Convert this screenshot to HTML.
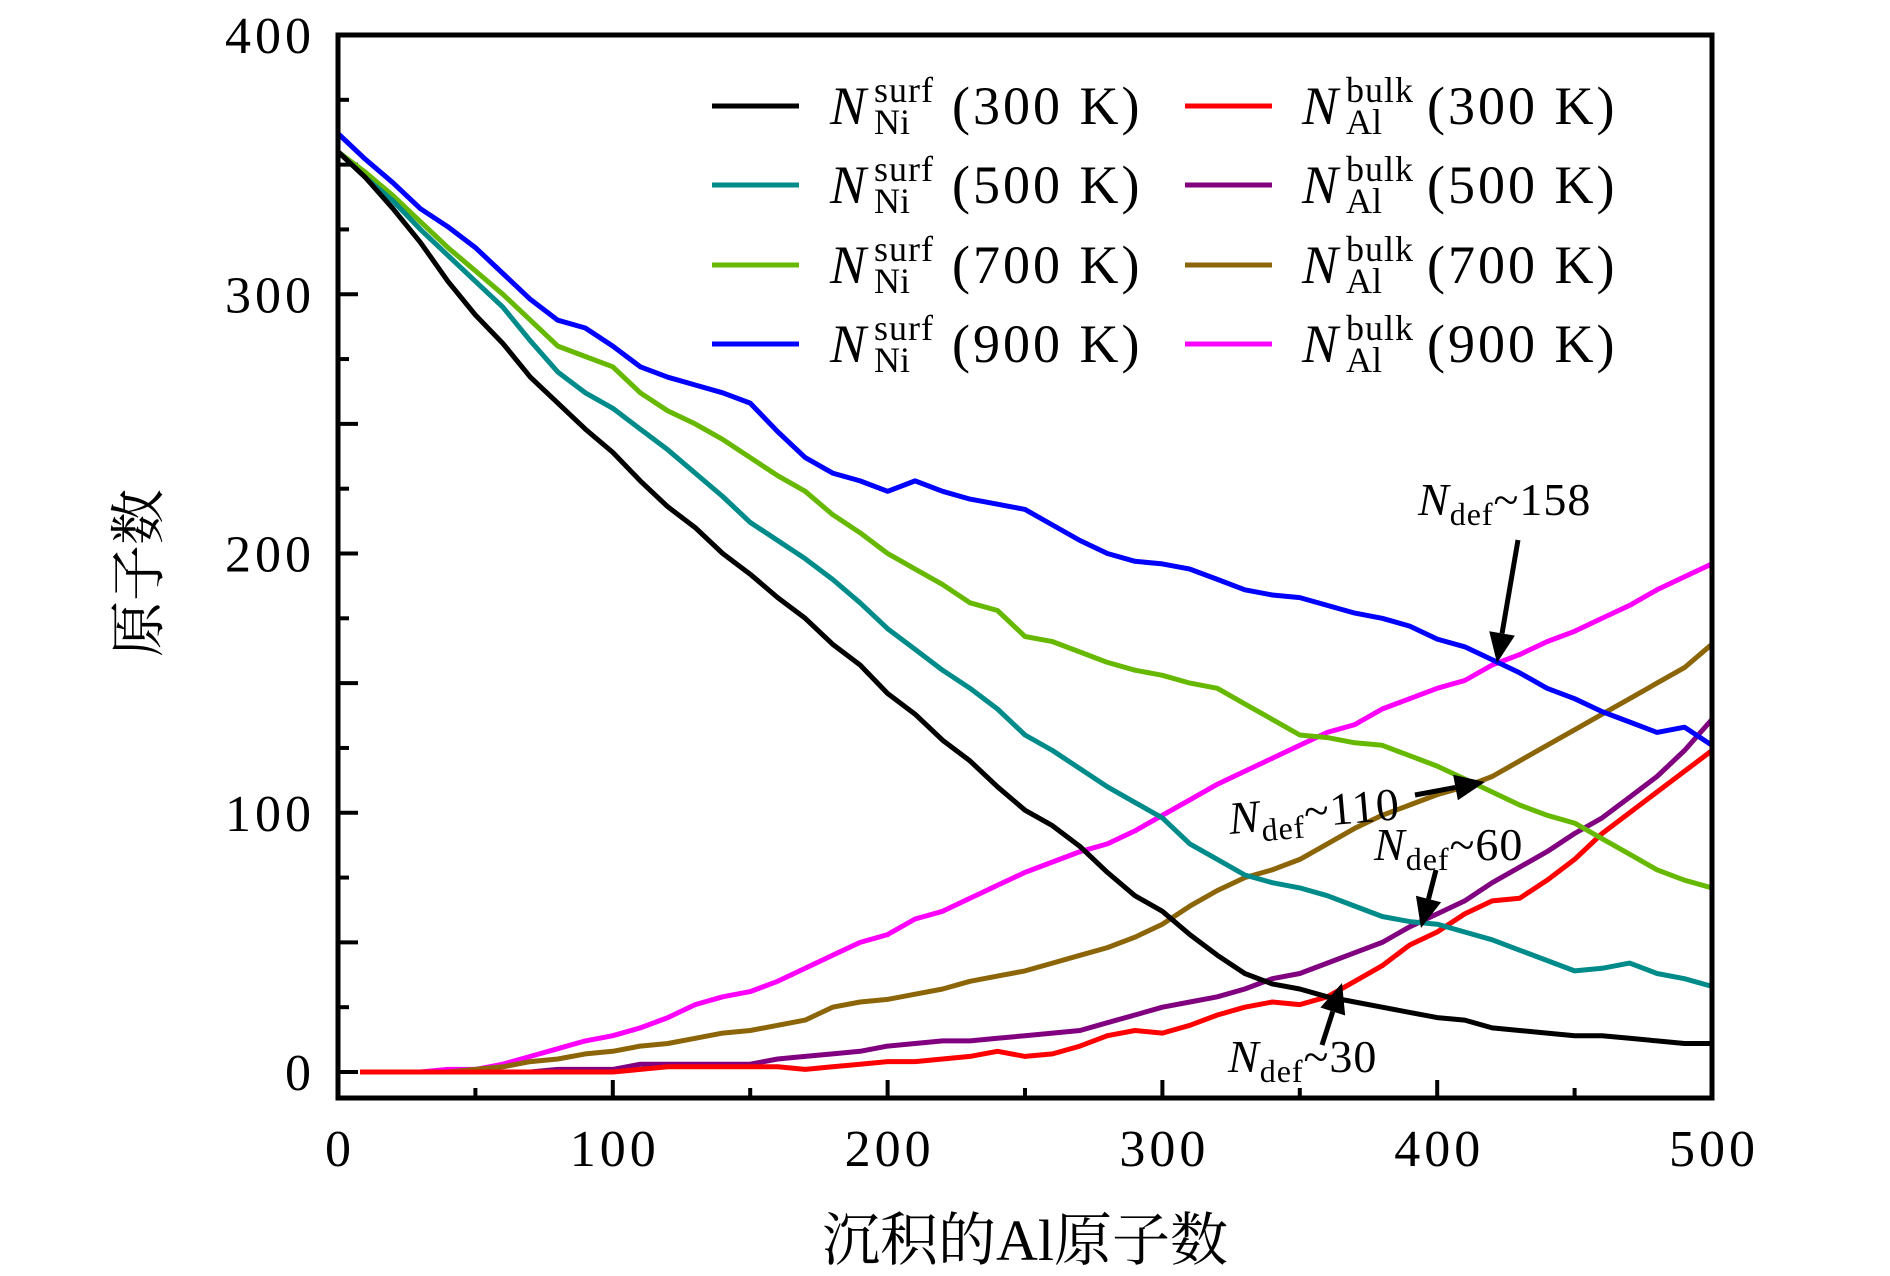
<!DOCTYPE html>
<html><head><meta charset="utf-8"><style>
html,body{margin:0;padding:0;background:#fff;}
svg{display:block;font-family:"Liberation Serif","Noto Serif CJK SC",serif;}
</style></head><body>
<svg id="chart" width="1890" height="1276" viewBox="0 0 1890 1276" xmlns="http://www.w3.org/2000/svg">
<g id="ticks"></g>
<g id="series"></g>
<rect x="338" y="35" width="1374" height="1063" fill="none" stroke="#000" stroke-width="5"/>
<g id="ticklabels" font-size="52" letter-spacing="4"></g>
<text transform="translate(158,573) rotate(-90)" text-anchor="middle" font-size="56" font-family="'Noto Serif CJK SC','Liberation Serif',serif">原子数</text>
<text x="1025" y="1260" text-anchor="middle" font-size="58" font-family="'Liberation Serif','Noto Serif CJK SC',serif">沉积的Al原子数</text>
<g id="legend"></g>
<g id="annot"></g>
</svg>
<script>
const xs = [0,10,20,30,40,50,60,70,80,90,100,110,120,130,140,150,160,170,180,190,200,210,220,230,240,250,260,270,280,290,300,310,320,330,340,350,360,370,380,390,400,410,420,430,440,450,460,470,480,490,500];
const surf300 = [355,345,333,320,305,292,281,268,258,248,239,228,218,210,200,192,183,175,165,157,146,138,128,120,110,101,95,87,77,68,62,53,45,38,34,32,29,27,25,23,21,20,17,16,15,14,14,13,12,11,11];
const surf500 = [355,345,336,325,315,305,295,282,270,262,256,248,240,231,222,212,205,198,190,181,171,163,155,148,140,130,124,117,110,104,98,88,82,76,73,71,68,64,60,58,57,54,51,47,43,39,40,42,38,36,33];
const surf700 = [355,347,338,328,318,309,300,290,280,276,272,262,255,250,244,237,230,224,215,208,200,194,188,181,178,168,166,162,158,155,153,150,148,142,136,130,129,127,126,122,118,113,108,103,99,96,90,84,78,74,71];
const surf900 = [362,352,343,333,326,318,308,298,290,287,280,272,268,265,262,258,247,237,231,228,224,228,224,221,219,217,211,205,200,197,196,194,190,186,184,183,180,177,175,172,167,164,159,154,148,144,139,135,131,133,126];
const bulk300 = [0,0,0,0,0,0,0,0,0,0,0,1,2,2,2,2,2,1,2,3,4,4,5,6,8,6,7,10,14,16,15,18,22,25,27,26,29,35,41,49,54,61,66,67,74,82,92,100,108,116,124];
const bulk500 = [0,0,0,0,0,0,0,0,1,1,1,3,3,3,3,3,5,6,7,8,10,11,12,12,13,14,15,16,19,22,25,27,29,32,36,38,42,46,50,56,61,66,73,79,85,92,98,106,114,124,136];
const bulk700 = [0,0,0,0,0,1,2,4,5,7,8,10,11,13,15,16,18,20,25,27,28,30,32,35,37,39,42,45,48,52,57,64,70,75,78,82,88,94,99,103,107,110,114,120,126,132,138,144,150,156,165];
const bulk900 = [0,0,0,0,1,1,3,6,9,12,14,17,21,26,29,31,35,40,45,50,53,59,62,67,72,77,81,85,88,93,99,105,111,116,121,126,131,134,140,144,148,151,157,161,166,170,175,180,186,191,196];
const xTicks = [0,100,200,300,400,500];
const yTicks = [0,100,200,300,400];

const NS="http://www.w3.org/2000/svg";
const X = v => 338 + v*1374/500;
const Y = v => 1072 - v*(1072-35)/400;
function mk(tag, attrs, parent){const e=document.createElementNS(NS,tag);for(const k in attrs)e.setAttribute(k,attrs[k]);parent.appendChild(e);return e;}

const series=[
 ["surf-300k",surf300,"#000000",0],["surf-500k",surf500,"#008b8b",0],["surf-700k",surf700,"#66b800",0],["surf-900k",surf900,"#0000ff",0],
 ["bulk-300k",bulk300,"#ff0000",1],["bulk-500k",bulk500,"#800080",1],["bulk-700k",bulk700,"#8b6508",1],["bulk-900k",bulk900,"#ff00ff",1]];
const sg=document.getElementById('series');
const order=[7,6,5,4,3,2,1,0];
order.forEach(i=>{
  const [name,vals,col,bulk]=series[i];
  let d="";
  vals.forEach((v,j)=>{let xv=xs[j]; if(bulk&&j===0) xv=8; d+=(j?"L":"M")+X(xv).toFixed(1)+","+Y(v).toFixed(1);});
  const p=mk('path',{d:d,fill:"none",stroke:col,"stroke-width":5,"stroke-linejoin":"round"},sg);
  
  
});

const tg=document.getElementById('ticks');
for(let v=0;v<=500;v+=50){const len=(v%100===0)?18:10;
  const t=mk('line',{x1:X(v),x2:X(v),y1:1098,y2:1098-len,stroke:"#000","stroke-width":4},tg);
  
  }
for(let v=0;v<=400;v+=25){const len=(v%50===0)?20:11;
  const t=mk('line',{x1:338,x2:338+len,y1:Y(v),y2:Y(v),stroke:"#000","stroke-width":4},tg);
  
  }

const lg=document.getElementById('ticklabels');
xTicks.forEach(v=>{const t=mk('text',{x:X(v)+2,y:1166,"text-anchor":"middle"},lg);t.textContent=v;
  
  });
yTicks.forEach(v=>{const t=mk('text',{x:315,y:Y(v)+18,"text-anchor":"end"},lg);t.textContent=v;
  
  });

const leg=document.getElementById('legend');
const rows=[106,185,265,344];
series.forEach((s,i)=>{
  const col=s[3], r=i%4, cy=rows[r];
  const lx=col?1185:712, tx=col?1302:830;
  const g=mk('g',{},leg);
  
  
  mk('line',{x1:lx,x2:lx+87,y1:cy,y2:cy,stroke:s[2],"stroke-width":5},g);
  const n=mk('text',{x:tx,y:cy+18,"font-size":54,"font-style":"italic"},g);n.textContent="N";
  const sp=mk('text',{x:tx+44,y:cy-4,"font-size":36,"letter-spacing":1},g);sp.textContent=col?"bulk":"surf";
  const sb=mk('text',{x:tx+44,y:cy+28,"font-size":36},g);sb.textContent=col?"Al":"Ni";
  const tt=mk('text',{x:tx+(col?125:122),y:cy+18,"font-size":54,"letter-spacing":3},g);tt.textContent="("+["300","500","700","900"][r]+" K)";
});

const an=document.getElementById('annot');
function label(x,y,val,rot,name){
  const g=mk('g',{transform:`translate(${x},${y}) rotate(${rot})`},an);
  
  
  const t=mk('text',{x:0,y:0,"font-size":46,"letter-spacing":1},g);
  const a=mk('tspan',{"font-style":"italic"},t);a.textContent="N";
  const b=mk('tspan',{"font-size":32,dy:10},t);b.textContent="def";
  const c=mk('tspan',{dy:-10},t);c.textContent="~"+val;
}
function arrow(x1,y1,x2,y2,name){
  const g=mk('g',{},an);
  
  
  const dx=x2-x1,dy=y2-y1,L=Math.hypot(dx,dy),ux=dx/L,uy=dy/L,h=30,w=13;
  const bx=x2-ux*h,by=y2-uy*h;
  mk('line',{x1:x1,y1:y1,x2:bx,y2:by,stroke:"#000","stroke-width":5},g);
  mk('polygon',{points:`${x2},${y2} ${bx-uy*w},${by+ux*w} ${bx+uy*w},${by-ux*w}`,fill:"#000"},g);
}
label(1418,515,"158",0,"annotation-158");
arrow(1518,540,1497,663,"arrow-158");
label(1230,834,"110",-5,"annotation-110");
arrow(1415,795,1485,782,"arrow-110");
label(1374,860,"60",0,"annotation-60");
arrow(1436,870,1421,928,"arrow-60");
label(1228,1072,"30",0,"annotation-30");
arrow(1322,1045,1342,983,"arrow-30");
</script>
</body></html>
